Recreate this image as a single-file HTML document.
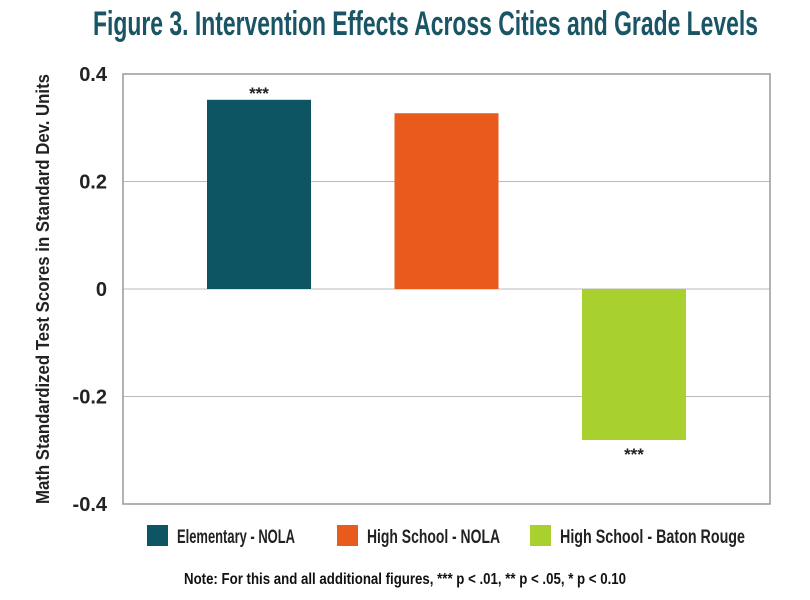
<!DOCTYPE html>
<html><head><meta charset="utf-8"><style>
html,body{margin:0;padding:0;background:#fff;}
svg{display:block;font-family:"Liberation Sans Narrow","Liberation Sans",sans-serif;font-weight:bold;}
</style></head><body>
<svg id="chart" width="810" height="600" viewBox="0 0 810 600">
  <text x="93" y="35" font-size="34" fill="#1a5565" textLength="665" lengthAdjust="spacingAndGlyphs">Figure 3. Intervention Effects Across Cities and Grade Levels</text>
  <g id="grid"></g>
  <g id="bars"></g>
  <g id="yticks"></g>
  <text transform="translate(49,289) rotate(-90)" text-anchor="middle" font-size="18" fill="#222" textLength="430" lengthAdjust="spacingAndGlyphs">Math Standardized Test Scores in Standard Dev. Units</text>
  <g>
    <rect x="147" y="525" width="21" height="21" fill="#0e5563"/>
    <text x="177" y="543" font-size="19" fill="#222" textLength="118" lengthAdjust="spacingAndGlyphs">Elementary - NOLA</text>
    <rect x="337" y="525" width="21" height="21" fill="#e95a1d"/>
    <text x="367" y="543" font-size="19" fill="#222" textLength="133" lengthAdjust="spacingAndGlyphs">High School - NOLA</text>
    <rect x="530" y="525" width="21" height="21" fill="#a8d12f"/>
    <text x="560" y="543" font-size="19" fill="#222" textLength="185" lengthAdjust="spacingAndGlyphs">High School - Baton Rouge</text>
  </g>
  <text x="184" y="584" font-size="16" fill="#111" textLength="442" lengthAdjust="spacingAndGlyphs">Note: For this and all additional figures, *** p &lt; .01, ** p &lt; .05, * p &lt; 0.10</text>
  <rect x="123" y="74" width="647" height="430" fill="none" stroke="#999" stroke-width="1.5"/>
</svg>
<script>
const categories = ["Elementary - NOLA", "High School - NOLA", "High School - Baton Rouge"];
const values = [0.352, 0.327, -0.281];
const stars = ["***", "", "***"];
const colors = ["#0e5563", "#e95a1d", "#a8d12f"];
const yTicks = [0.4, 0.2, 0, -0.2, -0.4];
const yTickLabels = ["0.4", "0.2", "0", "-0.2", "-0.4"];

const NS = "http://www.w3.org/2000/svg";
const plotL = 123, plotR = 770, plotT = 74, plotB = 504;
const yMin = -0.4, yMax = 0.4;
function y(v){ return plotB - (v - yMin) / (yMax - yMin) * (plotB - plotT); }
const barW = 104;
const firstCenter = 259, step = 187.5;
function x(i){ return firstCenter + step * i - barW / 2; }

const grid = document.getElementById('grid');
const yt = document.getElementById('yticks');
yTicks.forEach((t, i) => {
  const l = document.createElementNS(NS, 'line');
  l.setAttribute('x1', plotL); l.setAttribute('x2', plotR);
  l.setAttribute('y1', y(t)); l.setAttribute('y2', y(t));
  l.setAttribute('stroke', '#bbb'); l.setAttribute('stroke-width', '1');
  
  
  grid.appendChild(l);
  const tx = document.createElementNS(NS, 'text');
  tx.setAttribute('x', 107); tx.setAttribute('y', y(t) + 7);
  tx.setAttribute('text-anchor', 'end'); tx.setAttribute('font-size', '20');
  tx.setAttribute('fill', '#222');
  tx.textContent = yTickLabels[i];
  
  
  yt.appendChild(tx);
});

const bars = document.getElementById('bars');
values.forEach((v, i) => {
  const r = document.createElementNS(NS, 'rect');
  const top = Math.min(y(v), y(0)), h = Math.abs(y(v) - y(0));
  r.setAttribute('x', x(i)); r.setAttribute('y', top);
  r.setAttribute('width', barW); r.setAttribute('height', h);
  r.setAttribute('fill', colors[i]);
  
  
  bars.appendChild(r);
  if (stars[i]) {
    const s = document.createElementNS(NS, 'text');
    s.setAttribute('x', x(i) + barW / 2);
    s.setAttribute('y', v >= 0 ? y(v) - 1 : y(v) + 20);
    s.setAttribute('text-anchor', 'middle'); s.setAttribute('font-size', '17');
    s.setAttribute('fill', '#222');
    s.textContent = stars[i];
    
    
    bars.appendChild(s);
  }
});
</script>
</body></html>
